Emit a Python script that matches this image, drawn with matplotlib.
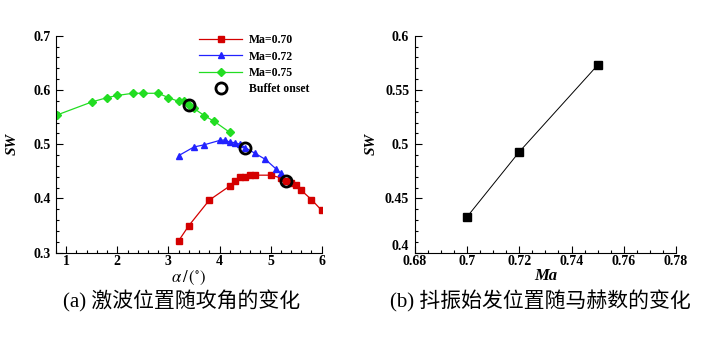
import numpy as np
import matplotlib.pyplot as plt
from matplotlib.ticker import MultipleLocator

plt.rcParams['font.family'] = ['Liberation Serif', 'DejaVu Serif']
plt.rcParams['mathtext.fontset'] = 'stix'

# Ma = 0.70
a70 = [3.2, 3.4, 3.8, 4.2, 4.3, 4.4, 4.5, 4.6, 4.7, 5.0, 5.2, 5.3, 5.4, 5.5, 5.6, 5.8, 6.0]
sw70 = [0.322, 0.350, 0.397, 0.423, 0.433, 0.439, 0.440, 0.443, 0.443, 0.443, 0.438, 0.432,
        0.428, 0.424, 0.415, 0.398, 0.378]
# Ma = 0.72
a72 = [3.2, 3.5, 3.7, 4.0, 4.1, 4.2, 4.3, 4.4, 4.5, 4.7, 4.9, 5.1, 5.2]
sw72 = [0.479, 0.495, 0.499, 0.507, 0.508, 0.504, 0.503, 0.500, 0.494, 0.483, 0.472, 0.455, 0.447]
# Ma = 0.75
a75 = [0.82, 1.5, 1.8, 2.0, 2.3, 2.5, 2.8, 3.0, 3.2, 3.3, 3.4, 3.5, 3.7, 3.9, 4.2]
sw75 = [0.554, 0.578, 0.586, 0.590, 0.594, 0.594, 0.594, 0.586, 0.579, 0.579, 0.573, 0.566,
        0.553, 0.542, 0.522]
# buffet onset
a_bo = [3.4, 4.5, 5.3]
sw_bo = [0.573, 0.494, 0.433]

# right panel
ma = [0.70, 0.72, 0.75]
sw_ma = [0.433, 0.493, 0.573]

fig = plt.figure(figsize=(7.2, 3.51), dpi=100)
ax1 = fig.add_axes([0.0778, 0.280, 0.369, 0.618])
ax2 = fig.add_axes([0.576, 0.280, 0.363, 0.618])

ax1.plot(a70, sw70, color='#d40000', marker='s', ms=4.5, lw=0.9, label='Ma=0.70')
ax1.plot(a72, sw72, color='#2222ff', marker='^', ms=4.5, lw=0.9, label='Ma=0.72')
ax1.plot(a75, sw75, color='#22dd22', marker='D', ms=4.5, lw=0.9, label='Ma=0.75')
ax1.plot(a_bo, sw_bo, ls='none', marker='o', ms=8, mfc='none', mec='black', mew=2,
         label='Buffet onset')
ax1.set_xlim(0.8, 6)
ax1.set_ylim(0.3, 0.7)
ax1.xaxis.set_major_locator(MultipleLocator(1))
ax1.xaxis.set_minor_locator(MultipleLocator(0.2))
ax1.yaxis.set_major_locator(MultipleLocator(0.1))
ax1.yaxis.set_minor_locator(MultipleLocator(0.02))
ax1.set_ylabel('SW', fontsize=11, fontweight='bold', fontstyle='italic', labelpad=10)
ax1.set_xlabel(r'$\alpha\,/\,(^{\circ})$', fontsize=12, labelpad=0)
ax1.legend(loc='upper left', bbox_to_anchor=(0.50, 1.055), frameon=False,
           prop={'weight': 'bold', 'size': 8.5}, handlelength=3.6,
           labelspacing=0.35, handletextpad=0.6)

ax2.plot(ma, sw_ma, color='black', marker='s', ms=5.5, lw=0.7)
ax2.set_xlim(0.68, 0.78)
ax2.set_ylim(0.4, 0.6)
ax2.xaxis.set_minor_locator(MultipleLocator(0.005))
ax2.yaxis.set_minor_locator(MultipleLocator(0.01))
ax2.set_ylabel('SW', fontsize=11, fontweight='bold', fontstyle='italic', labelpad=5)
ax2.set_xlabel('Ma', fontsize=12, fontweight='bold', fontstyle='italic', labelpad=0)
ax2.set_xticks([0.68, 0.7, 0.72, 0.74, 0.76, 0.78])
ax2.set_xticklabels(['0.68', '0.7', '0.72', '0.74', '0.76', '0.78'])
ax2.set_yticks([0.4, 0.45, 0.5, 0.55, 0.6])
ax2.set_yticklabels(['0.4', '0.45', '0.5', '0.55', '0.6'])

for ax in (ax1, ax2):
    ax.spines['right'].set_visible(False)
    ax.spines['top'].set_visible(False)
    ax.tick_params(which='both', direction='in', width=0.8, labelsize=10)
    ax.tick_params(axis='x', pad=2)
    ax.tick_params(axis='y', pad=4)
    ax.tick_params(which='major', length=5)
    ax.tick_params(which='minor', length=2.5)
    for t in ax.get_xticklabels() + ax.get_yticklabels():
        t.set_fontweight('bold')

# lift the bottom y label a touch so it clears the first x label, as in the reference
ax2.get_yticklabels()[0].set_va('bottom')

cap = ['Liberation Serif', 'Noto Sans CJK SC']
fig.text(0.252, 0.142, '(a) 激波位置随攻角的变化', ha='center', va='center', fontsize=15,
         family=cap)
fig.text(0.751, 0.142, '(b) 抖振始发位置随马赫数的变化', ha='center', va='center', fontsize=15,
         family=cap)

fig.savefig('out.png', dpi=100)
